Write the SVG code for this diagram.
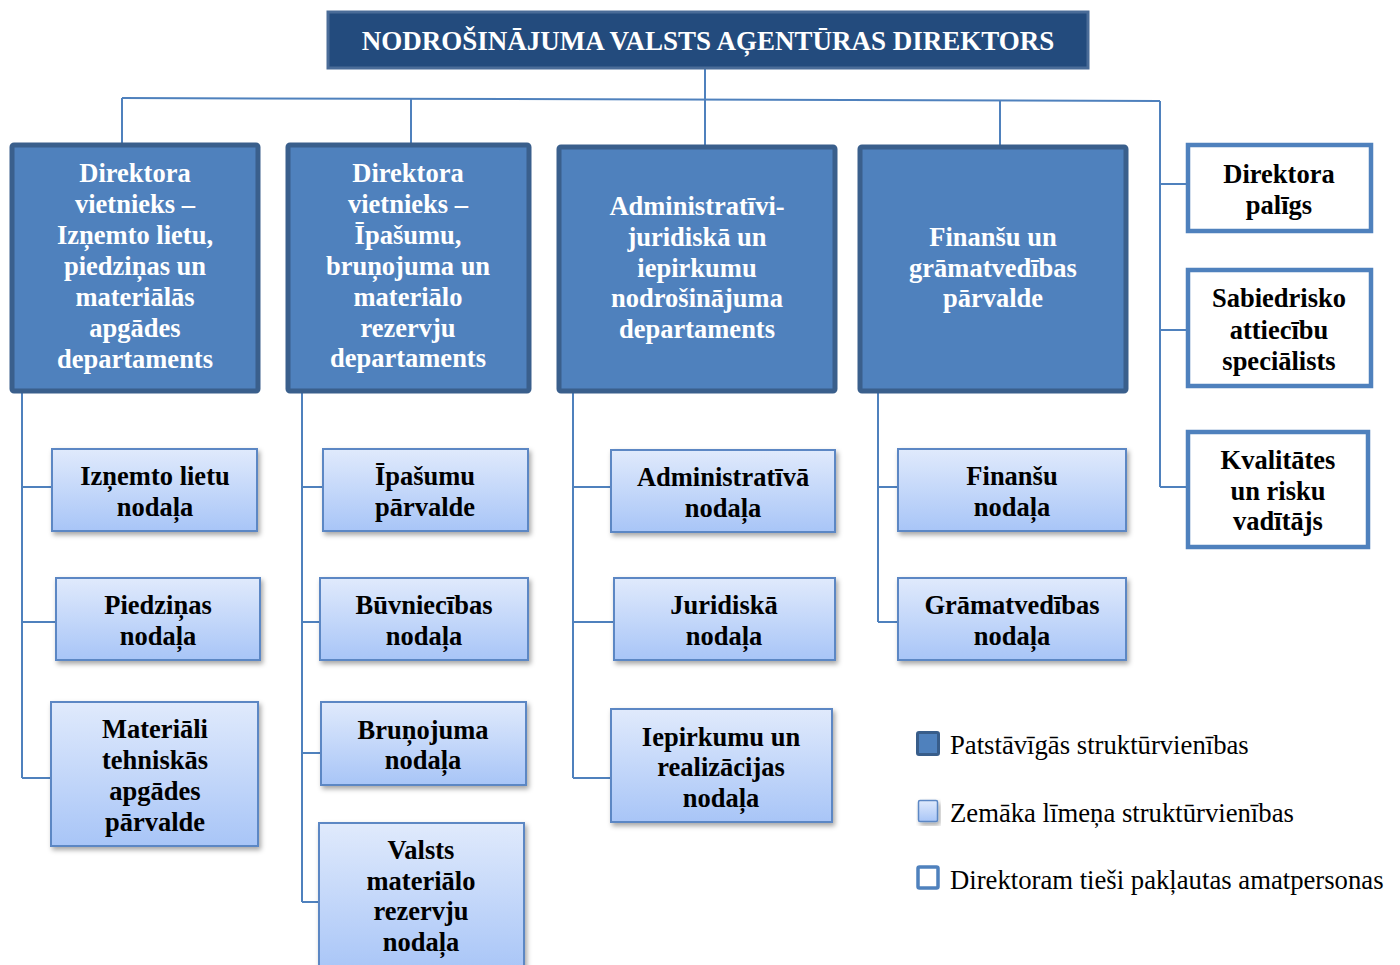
<svg xmlns="http://www.w3.org/2000/svg" width="1400" height="965" viewBox="0 0 1400 965">
<defs>
<linearGradient id="lg" x1="0" y1="0" x2="0" y2="1">
<stop offset="0" stop-color="#e0eafc"/>
<stop offset="1" stop-color="#a8c5f7"/>
</linearGradient>
<filter id="sh" x="-10%" y="-10%" width="125%" height="130%">
<feDropShadow dx="2" dy="3" stdDeviation="2.5" flood-color="#000" flood-opacity="0.35"/>
</filter>
<style>
.top{fill:#234b7d;stroke:#4a6c98;stroke-width:3}
.l1{fill:#4f81bd;stroke:#3a5f8c;stroke-width:5}
.l2{fill:url(#lg);stroke:#5b87c4;stroke-width:2;filter:url(#sh)}
.dir{fill:#fff;stroke:#4f81bd;stroke-width:4.5}
.con{stroke:#4f81bd;stroke-width:2;fill:none}
text{font-family:"Liberation Serif","Times New Roman",serif;text-anchor:middle}
.tw{fill:#fff;font-weight:bold;font-size:26.5px}
.tb{fill:#000;font-weight:bold;font-size:26.5px}
.tt{fill:#fff;font-weight:bold;font-size:27px}
.lg{fill:#000;font-size:26.7px;text-anchor:start}
</style>
</defs>
<rect width="1400" height="965" fill="#fff"/>
<g id="connectors" class="con">
<path d="M705 69V99"/>
<path d="M122 98L1160 101"/>
<path d="M122 98V143M411 99V143M705 99V145M1000 100V145"/>
<path d="M1160 101V487M1160 184H1187M1160 330H1187M1160 487H1187"/>
<path d="M22 393V778M22 487H52M22 622H56M22 778H51"/>
<path d="M302 393V902M302 487H323M302 622H320M302 753H321M302 902H319"/>
<path d="M573 393V778M573 487H611M573 622H614M573 778H611"/>
<path d="M878 393V622M878 487H898M878 622H898"/>
</g>
<g id="director">
<rect class="top" x="328" y="12" width="760" height="56"/>
<text class="tt" x="708" y="50">NODROŠINĀJUMA VALSTS AĢENTŪRAS DIREKTORS</text>
</g>
<g id="dep1">
<rect class="l1" x="12" y="145" width="246" height="246" rx="2"/>
<text class="tw"><tspan x="135" y="182">Direktora</tspan><tspan x="135" y="213">vietnieks –</tspan><tspan x="135" y="244">Izņemto lietu,</tspan><tspan x="135" y="275">piedziņas un</tspan><tspan x="135" y="306">materiālās</tspan><tspan x="135" y="337">apgādes</tspan><tspan x="135" y="368">departaments</tspan></text>
</g>
<g id="dep2">
<rect class="l1" x="288" y="145" width="241" height="246" rx="2"/>
<text class="tw"><tspan x="408" y="182">Direktora</tspan><tspan x="408" y="213">vietnieks –</tspan><tspan x="408" y="244">Īpašumu,</tspan><tspan x="408" y="275">bruņojuma un</tspan><tspan x="408" y="306">materiālo</tspan><tspan x="408" y="337">rezervju</tspan><tspan x="408" y="367">departaments</tspan></text>
</g>
<g id="dep3">
<rect class="l1" x="559" y="147" width="276" height="244" rx="2"/>
<text class="tw"><tspan x="697" y="215">Administratīvi-</tspan><tspan x="697" y="246">juridiskā un</tspan><tspan x="697" y="277">iepirkumu</tspan><tspan x="697" y="307">nodrošinājuma</tspan><tspan x="697" y="338">departaments</tspan></text>
</g>
<g id="dep4">
<rect class="l1" x="860" y="147" width="266" height="244" rx="2"/>
<text class="tw"><tspan x="993" y="246">Finanšu un</tspan><tspan x="993" y="277">grāmatvedības</tspan><tspan x="993" y="307">pārvalde</tspan></text>
</g>
<g id="palig">
<rect class="dir" x="1188" y="145" width="183" height="86"/>
<text class="tb"><tspan x="1279" y="183">Direktora</tspan><tspan x="1279" y="214">palīgs</tspan></text>
</g>
<g id="sabiedr">
<rect class="dir" x="1188" y="270" width="183" height="116"/>
<text class="tb"><tspan x="1279" y="307">Sabiedrisko</tspan><tspan x="1279" y="339">attiecību</tspan><tspan x="1279" y="370">speciālists</tspan></text>
</g>
<g id="kvalit">
<rect class="dir" x="1188" y="432" width="180" height="115"/>
<text class="tb"><tspan x="1278" y="469">Kvalitātes</tspan><tspan x="1278" y="500">un risku</tspan><tspan x="1278" y="530">vadītājs</tspan></text>
</g>
<g id="izn">
<rect class="l2" x="52" y="449" width="205" height="82"/>
<text class="tb"><tspan x="155" y="485">Izņemto lietu</tspan><tspan x="155" y="516">nodaļa</tspan></text>
</g>
<g id="piedz">
<rect class="l2" x="56" y="578" width="204" height="82"/>
<text class="tb"><tspan x="158" y="614">Piedziņas</tspan><tspan x="158" y="645">nodaļa</tspan></text>
</g>
<g id="mater">
<rect class="l2" x="51" y="702" width="207" height="144"/>
<text class="tb"><tspan x="155" y="738">Materiāli</tspan><tspan x="155" y="769">tehniskās</tspan><tspan x="155" y="800">apgādes</tspan><tspan x="155" y="831">pārvalde</tspan></text>
</g>
<g id="ipas">
<rect class="l2" x="323" y="449" width="205" height="82"/>
<text class="tb"><tspan x="425" y="485">Īpašumu</tspan><tspan x="425" y="516">pārvalde</tspan></text>
</g>
<g id="buvn">
<rect class="l2" x="320" y="578" width="208" height="82"/>
<text class="tb"><tspan x="424" y="614">Būvniecības</tspan><tspan x="424" y="645">nodaļa</tspan></text>
</g>
<g id="brun">
<rect class="l2" x="321" y="702" width="205" height="83"/>
<text class="tb"><tspan x="423" y="739">Bruņojuma</tspan><tspan x="423" y="769">nodaļa</tspan></text>
</g>
<g id="valsts">
<rect class="l2" x="319" y="823" width="205" height="150"/>
<text class="tb"><tspan x="421" y="859">Valsts</tspan><tspan x="421" y="890">materiālo</tspan><tspan x="421" y="920">rezervju</tspan><tspan x="421" y="951">nodaļa</tspan></text>
</g>
<g id="admin">
<rect class="l2" x="611" y="450" width="224" height="82"/>
<text class="tb"><tspan x="723" y="486">Administratīvā</tspan><tspan x="723" y="517">nodaļa</tspan></text>
</g>
<g id="jurid">
<rect class="l2" x="614" y="578" width="221" height="82"/>
<text class="tb"><tspan x="724" y="614">Juridiskā</tspan><tspan x="724" y="645">nodaļa</tspan></text>
</g>
<g id="iepirk">
<rect class="l2" x="611" y="709" width="221" height="113"/>
<text class="tb"><tspan x="721" y="746">Iepirkumu un</tspan><tspan x="721" y="776">realizācijas</tspan><tspan x="721" y="807">nodaļa</tspan></text>
</g>
<g id="finan">
<rect class="l2" x="898" y="449" width="228" height="82"/>
<text class="tb"><tspan x="1012" y="485">Finanšu</tspan><tspan x="1012" y="516">nodaļa</tspan></text>
</g>
<g id="gramat">
<rect class="l2" x="898" y="578" width="228" height="82"/>
<text class="tb"><tspan x="1012" y="614">Grāmatvedības</tspan><tspan x="1012" y="645">nodaļa</tspan></text>
</g>
<g id="legend">
<rect x="917.5" y="732.5" width="21" height="22" rx="1.5" fill="#4f81bd" stroke="#385d8a" stroke-width="3"/>
<text class="lg" x="950" y="754">Patstāvīgās struktūrvienības</text>
<rect x="918.5" y="800.5" width="19" height="21" rx="1.5" fill="url(#lg)" stroke="#5b87c4" stroke-width="1.5" filter="url(#sh)"/>
<text class="lg" x="950" y="822">Zemāka līmeņa struktūrvienības</text>
<rect x="918" y="867" width="20" height="21" rx="1.5" fill="#fff" stroke="#4f81bd" stroke-width="3.5"/>
<text class="lg" x="950" y="889">Direktoram tieši pakļautas amatpersonas</text>
</g>
</svg>
